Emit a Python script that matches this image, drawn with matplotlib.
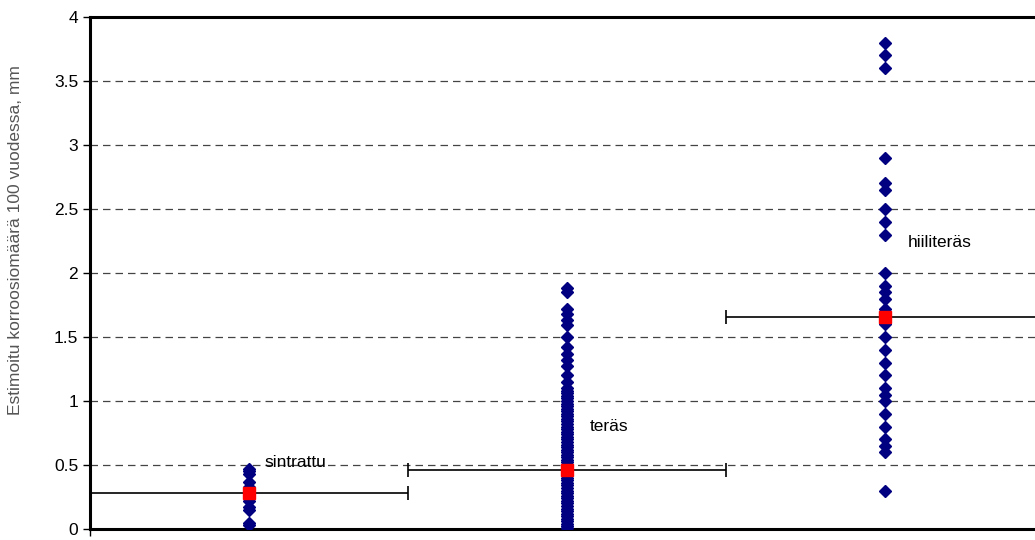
import matplotlib.pyplot as plt

plt.rcParams['font.family'] = ['Liberation Sans', 'DejaVu Sans']

# data
categories = ["sintrattu", "teräs", "hiiliteräs"]

sintrattu = [0.47, 0.45, 0.43, 0.37, 0.33, 0.30, 0.25, 0.22, 0.17, 0.15, 0.05, 0.03]

teras = [1.88, 1.85, 1.72, 1.68, 1.63, 1.59, 1.50, 1.42, 1.37, 1.32, 1.27, 1.20, 1.15,
         1.10, 1.08, 1.06, 1.04, 1.02, 1.00, 0.98, 0.96, 0.94, 0.92, 0.90, 0.88, 0.86,
         0.84, 0.82, 0.80, 0.78, 0.76, 0.74, 0.72, 0.70, 0.68, 0.66, 0.64, 0.62, 0.60,
         0.58, 0.56, 0.54, 0.52, 0.50, 0.48, 0.46, 0.44, 0.42, 0.40, 0.38, 0.36, 0.34,
         0.32, 0.30, 0.28, 0.26, 0.24, 0.22, 0.20, 0.18, 0.16, 0.14, 0.12, 0.10, 0.08,
         0.06, 0.04, 0.02, 0.01]

hiiliteras = [3.8, 3.7, 3.6, 2.9, 2.7, 2.65, 2.5, 2.4, 2.3, 2.0, 1.9, 1.85, 1.8, 1.72,
              1.6, 1.5, 1.4, 1.3, 1.2, 1.1, 1.05, 1.0, 0.9, 0.8, 0.7, 0.65, 0.6, 0.3]

means = [0.28, 0.46, 1.66]
label_x = [1.05, 2.07, 3.07]
label_y = [0.52, 0.80, 2.24]

series = [sintrattu, teras, hiiliteras]

fig = plt.figure(figsize=(10.35, 5.4), dpi=100)
# axes extends past the right edge like the original crop
ax = fig.add_axes([90 / 1035, 11 / 540, 954 / 1035, 512 / 540])

for i, vals in enumerate(series):
    xpos = i + 1
    ax.plot([xpos] * len(vals), vals, linestyle='none', marker='D',
            markersize=6, color='#000080', zorder=3)
    # horizontal bar spanning the category width
    ax.errorbar(xpos, means[i], xerr=0.5, fmt='none', ecolor='black',
                elinewidth=1.2, capsize=5, capthick=1.2, zorder=2)
    ax.plot(xpos, means[i], linestyle='none', marker='s', markersize=9,
            color='#ff0000', zorder=4)
    ax.text(label_x[i], label_y[i], categories[i], fontsize=12.5, color='black',
            ha='left', va='center', zorder=5)

ax.set_xlim(0.5, 3.5)
ax.set_ylim(0, 4)
ax.set_yticks([0, 0.5, 1, 1.5, 2, 2.5, 3, 3.5, 4])
ax.set_yticklabels(['0', '0.5', '1', '1.5', '2', '2.5', '3', '3.5', '4'], fontsize=12.5)
ax.set_xticks([0.5])
ax.set_xticklabels([''])
ax.tick_params(axis='both', direction='out', length=5, width=1)

for y in [0.5, 1, 1.5, 2, 2.5, 3, 3.5]:
    ax.axhline(y, color='#444444', linestyle=(0, (6, 4)), linewidth=0.9, zorder=1)

for side in ['left', 'bottom', 'top', 'right']:
    ax.spines[side].set_linewidth(2.2)
    ax.spines[side].set_color('black')

ax.set_ylabel("Estimoitu korroosiomäärä 100 vuodessa, mm", fontsize=12.5,
              color='#555555')
ax.yaxis.set_label_coords(-67 / 954, 0.565)

fig.savefig("out.png", dpi=100)
